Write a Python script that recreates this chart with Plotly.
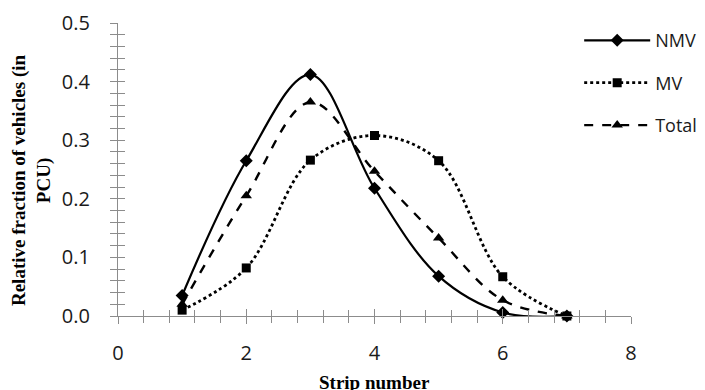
import plotly.graph_objects as go

strip = [1, 2, 3, 4, 5, 6, 7]
nmv = [0.035, 0.265, 0.412, 0.218, 0.068, 0.006, 0.0]
mv = [0.010, 0.082, 0.266, 0.308, 0.265, 0.067, 0.0]
total = [0.020, 0.205, 0.365, 0.247, 0.133, 0.027, 0.0]

series = [
    ("NMV", nmv, "solid", "diamond", 10, 2.2),
    ("MV", mv, "dot", "square", 9, 2.8),
    ("Total", total, "dash", "triangle-up", 10, 2.4),
]

fig = go.Figure()
for i, (name, vals, dash, sym, msize, lw) in enumerate(series):
    fig.add_trace(go.Scatter(
        x=strip, y=vals, name=name, mode="lines+markers",
        line=dict(color="black", width=lw, dash=dash, shape="spline", smoothing=1.0),
        marker=dict(symbol=sym, size=msize, color="black"),
        cliponaxis=False, legendgroup=name,
    ))

# invisible trace for the overlay axes (inner ticks)
fig.add_trace(go.Scatter(x=[None], y=[None], xaxis="x2", yaxis="y2",
                         showlegend=False, hoverinfo="skip"))

axcol = "#8c8c8c"
tickfont = dict(family="Open Sans", size=20, color="#1a1a1a")
fig.update_layout(
    width=697, height=390,
    margin=dict(l=110, r=74, t=15, b=82, autoexpand=False),
    paper_bgcolor="white", plot_bgcolor="white",
    showlegend=True,
    legend=dict(x=0.899, y=1.003, xanchor="left", yanchor="top",
                font=dict(family="Open Sans", size=18, color="#1a1a1a"),
                tracegroupgap=16, itemwidth=66, bgcolor="rgba(0,0,0,0)"),
    xaxis=dict(range=[0, 8], tickvals=[0, 2, 4, 6, 8], showgrid=False, zeroline=False,
               showline=True, linecolor=axcol, linewidth=1.3,
               ticks="outside", ticklen=7, tickcolor=axcol, tickwidth=1.3,
               minor=dict(dtick=0.4, ticks="outside", ticklen=6, tickcolor=axcol, tickwidth=1.3),
               tickfont=tickfont, ticklabelstandoff=12),
    yaxis=dict(range=[0, 0.5], tickvals=[0, 0.1, 0.2, 0.3, 0.4, 0.5], tickformat=".1f",
               showgrid=False, zeroline=False,
               showline=True, linecolor=axcol, linewidth=1.3,
               ticks="outside", ticklen=7, tickcolor=axcol, tickwidth=1.3,
               minor=dict(dtick=0.02, ticks="outside", ticklen=7, tickcolor=axcol, tickwidth=1.3),
               tickfont=tickfont, ticklabelstandoff=16),
    xaxis2=dict(range=[0, 8], overlaying="x", anchor="y2", showgrid=False, zeroline=False,
                showline=False, showticklabels=False, tickvals=[0, 2, 4, 6, 8],
                ticks="inside", ticklen=7, tickcolor=axcol, tickwidth=1.3,
                minor=dict(dtick=0.4, ticks="inside", ticklen=6, tickcolor=axcol, tickwidth=1.3)),
    yaxis2=dict(range=[0, 0.5], overlaying="y", anchor="x2", showgrid=False, zeroline=False,
                showline=False, showticklabels=False, tickvals=[0, 0.1, 0.2, 0.3, 0.4, 0.5],
                ticks="inside", ticklen=7, tickcolor=axcol, tickwidth=1.3,
                minor=dict(dtick=0.02, ticks="inside", ticklen=7, tickcolor=axcol, tickwidth=1.3)),
    annotations=[
        dict(text="<b>Strip number</b>", xref="paper", yref="paper", x=0.5, y=0,
             yshift=-54, xanchor="center", yanchor="top", showarrow=False,
             font=dict(family="Liberation Serif", size=19, color="black")),
        dict(text="<b>Relative fraction of vehicles (in<br>PCU)</b>", xref="paper", yref="paper",
             x=0, xshift=-87, y=0.464, xanchor="center", yanchor="middle", textangle=-90,
             showarrow=False, font=dict(family="Liberation Serif", size=19, color="black")),
    ],
)

fig.write_html("out.html")
